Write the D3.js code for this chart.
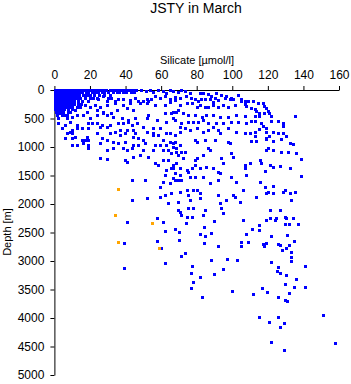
<!DOCTYPE html>
<html><head><meta charset="utf-8">
<script src="https://cdn.jsdelivr.net/npm/d3@7"></script>
<style>
body{margin:0;background:#fff;}
text{font-family:"Liberation Sans",Arial,sans-serif;fill:#000;}
</style></head>
<body><svg id="c" width="351" height="384"></svg>
<script>
const title = "JSTY in March";
const xLabel = "Silicate [\u00b5mol/l]";
const yLabel = "Depth [m]";
const xTicks = [0,20,40,60,80,100,120,140,160];
const yTicks = [0,500,1000,1500,2000,2500,3000,3500,4000,4500,5000];

// dense near-surface rows: [depth, silicate values...]
const denseRows = [
 [0, 0.5,2,3.5,5,6.5,8,9.5,11,12.5,14,15.5,17,18.5,20,21.5,23,24.5,26,27.5,29,31,32.5,34,36,37.5,39,41,42.5,44,46,48.5],
 [40, 0.5,2,3.5,5,6.5,8,9.5,11,12.5,14,15.5,17.5,19,21,23,24.5,26.5,28,30,33,35,36.5,38.5,40,43,45],
 [90, 0.5,2,3.5,5,6.5,8,9.5,11,12.5,14,16,18,19.5,22,25,28,31.5],
 [140, 0.5,2,3.5,5,6.5,8,9.5,11,12.5,14.5,17,20,24,30],
 [190, 0.5,2,3.5,5,6.5,8,9.5,11,13,15.5,19],
 [240, 0.5,2,3.5,5,6.5,8,9.5,11,13,15],
 [290, 0.5,2,3.5,5,6.5,8,10,12.5],
 [340, 0.5,2,3.5,5.5,7.5,10],
 [390, 1,3,5,7.5],
 [440, 1.5,4,6]
];

// scattered blue samples [silicate, depth]
const bluePoints = [
 [17.2,105],[20,94],[21.8,135],[24.6,164],[27.5,105],[29.3,193],[32.1,135],[34,193],[35.9,164],[38.7,164],[42.4,176],[45.2,135],[47.1,193],[49.9,193],[51.8,164],
 [2.2,380],[3.2,410],[5,380],[6.9,439],[8.8,380],[11.6,351],[14.4,293],[17.2,263],[20,293],[22.8,263],[25.6,293],[29.3,263],[34,234],[38.7,263],[42.4,234],[48,234],[51.8,234],[56.4,263],[62.1,263],[64.9,205],[67.7,176],
 [12.5,439],[18.1,380],[23.7,351],[27.5,380],[35,351],[40.6,322],[44.3,351],[52.7,439],[57.4,527],[62.1,410],[66.7,380],
 [2.2,497],[6.9,497],[9.7,468],[16.3,439],[20,497],[23.7,439],[27.5,410],[29.3,439],[32.1,410],[33.1,468],[37.8,497],[41.5,527],[46.2,585],[45.2,497],[51.8,497],[63,556],[66.7,497],
 [2.2,585],[6,614],[8.8,556],[12.5,614],[19.1,585],[20.9,585],[23.7,585],[26.5,614],[31.2,614],[35.9,585],[38.7,585],[41.5,556],[43.4,614],[49.9,644],[55.5,673],[59.3,673],
 [4.1,673],[8.8,731],[9.7,702],[12.5,673],[15.3,673],[19.1,673],[25.6,644],[29.3,644],[34,731],[36.8,702],[40.6,702],[44.3,702],[45.2,761],[51.8,731],[55.5,761],[63,761],[67.7,790],[70.5,731],
 [6.9,761],[9.7,761],[11.6,819],[9.7,848],[6,848],[15.3,878],[18.1,819],[23.7,761],[26.5,848],[31.2,761],[36.8,790],[39.6,761],[44.3,819],[47.1,848],[49.9,878],[55.5,790],[58.3,790],[61.1,878],[64.9,907],
 [17.2,878],[19.1,878],[16.3,936],[19.1,965],[25.6,936],[29.3,878],[33.1,907],[35.9,936],[39.6,907],[44.3,965],[47.1,965],[50.8,936],[56.4,965],[59.3,965],[63,965],[66.7,936],
 [9.7,965],[12.5,965],[19.1,1024],[29.3,1053],[33.1,1024],[38.7,1024],[40.6,1053],[43.4,1024],[49.9,1053],[55.5,1053],[61.1,1053],[63.9,1053],[68.6,1082],
 [25.6,1199],[29.3,1211],[40.6,1258],[39.6,1229],[44.3,1170],[48,1141],[52.7,1170],[56.4,1287],[61.1,1229],[63.9,1229],[66.7,1316],[66.7,1375],[67.7,1463],[63,1404],[62.1,1492],[58.3,1316],
 [43.4,1580],[50.8,1580],[61.1,1609],[59.3,1697],[67.7,1580],[66.7,1550],[62.1,1843],[59.3,1872],[65.8,1814],[63.9,1989],[43.4,1931],[51.8,1902],[40.6,2311],[57.4,2252],[61.1,2311],
 [39,2690],[61.9,2467],[57.8,2643],[60.2,2777],[61.9,3040],[39,3116],
 [64.9,205],[70.5,263],[74.3,234],[77.1,234],[79.9,293],[81.7,263],[84.5,293],[86.4,293],[89.2,263],[92,293],[94.8,263],[97.6,293],[101.4,263],
 [69.6,351],[65.8,410],[68.6,380],[72.4,410],[75.2,439],[78.9,439],[82.7,468],[85.5,439],[89.2,439],[93,468],[97.6,468],[102.3,439],
 [67.7,527],[71.4,585],[75.2,556],[78,556],[80.8,556],[83.6,527],[86.4,585],[91.1,585],[94.8,585],[99.5,556],[103.2,556],
 [73.3,673],[76.1,702],[79.9,673],[83.6,731],[86.4,702],[92,702],[93,761],[97.6,673],[102.3,731],[64.9,761],[70.5,644],[89.2,644],
 [78.9,878],[79.9,907],[84.5,878],[90.1,878],[97.6,907],[98.6,936],[67.7,907],[70.5,965],[68.6,1024],[66.8,995],
 [65.8,1112],[69.6,1141],[71.4,1082],[73.3,1082],[72.4,1199],[78.9,1229],[79.9,1199],[83.6,1141],[86.4,1024],[87.3,1053],[93.9,1199],[94.8,1287],[99.5,1112],[100.4,1170],
 [107,1316],[107,1375],[109.8,1287],[115.4,1229],[119.1,1053],[120.1,1024],[122.9,1053],[127.5,1082],[131.3,1082],[136,1100],[138.8,1217],[78.9,1316],[68.6,1287],
 [65.8,1375],[70.5,1375],[74.3,1404],[77.1,1375],[81.7,1375],[85.5,1345],[89.2,1375],[92,1433],[93,1463],[99.5,1521],[107.9,1492],[116.3,1287],[118.2,1416],[121,1316],[122.9,1345],[126.6,1328],[132.2,1375],[138.8,1510],
 [70.5,1492],[75.2,1433],[69.6,1580],[71.4,1580],[76.1,1521],[78.9,1521],[83.6,1521],[87.3,1638],[92,1580],[102.3,1609],[115.4,1621],[118.2,1708],[122.9,1679],[64.9,1638],
 [74.3,1755],[78,1755],[79.9,1755],[81.7,1814],[75.2,1843],[70.5,1785],[92,1843],[100.4,1843],[101.4,1872],[106,1755],[113.5,1872],[119.1,1814],[120.1,1785],[122.9,1814],[129.4,1755],[128.5,1785],[132.2,1814],[135,1785],[133.2,1931],
 [76.1,1931],[81.7,1902],[69.6,1960],[93,1989],[96.7,1931],[104.2,1960],
 [69.6,2106],[70.5,2135],[75.2,2077],[78,2077],[84.5,2106],[83.6,2194],[93.9,2077],[94.8,2165],[74.3,2223],[77.1,2223],[71.4,2194],
 [121,2106],[126.6,2106],[121,2252],[124.7,2252],[129.4,2223],[130.4,2252],[134.1,2252],
 [51.7,18],[53.6,0],[55.5,35],[58.3,0],[61.1,18],[63,47],[64.8,0],[66.7,18],[69.5,35],[71.4,0],[73.2,18],[76,47],[81.7,47],[83.5,59],[86.3,76],[88.2,105],[91,59],[93.8,94],[96.6,105],[99.4,135],[103.2,94],
 [52.7,193],[54.5,164],[56.4,105],[59.2,135],[62,105],[64.8,164],[67.6,117],[70.4,135],[74.2,105],[77,135],[78.9,152],[80.7,193],[82.6,164],[84.5,152],[87.3,164],[89.1,211],[90.1,135],[92,176],[95.7,135],[98.5,164],[100.4,152],[105,193],
 [105,164],[106.9,193],[108.8,193],[106.9,252],[107.8,281],[111.6,193],[114.4,222],[117.2,222],[118.1,281],[119,310],[110.6,310],[112.5,339],[113.5,369],[115.3,398],[118.1,398],[120,369],[120.9,398],[121.9,456],[115.3,456],[112.5,456],[106.9,456],[135,456],
 [110.6,544],[112.5,544],[107.8,574],[116.3,574],[121.9,544],[125.6,544],[128.4,574],[128.4,632],[117.2,632],[119,661],[115.3,678],
 [106.9,749],[109.7,749],[112.5,737],[119,737],[122.8,737],[125.6,749],[128.4,749],[130.3,808],[112.5,808],[119,837],[120.9,808],[110.6,895],[113.5,895],[119,866],[122.8,895],[127.5,866],[132.2,924],[134,954],
 [67.7,2444],[70.1,2485],[73.9,2339],[84.2,2397],[89.8,2292],[82.1,2532],[84.9,2561],[87.9,2514],[70.1,2631],[84,2690],[92,2736],[104.7,2660],[104.7,2736],[108.8,2660],[107.5,2526],[111.3,2444],[115,2368],[115,2456],[106,2280],[119,2280],[123.8,2280],[129.4,2350],[131.9,2350],[136.9,2350],
 [121.9,2555],[130.7,2537],[117.3,2701],[118.8,2690],[117.8,2736],[125.7,2701],[126.6,2719],[130,2777],[131.9,2719],[134.5,2643],[127.9,2806],[133.2,2836],[133.2,2924],[133.2,2994],
 [70.9,2912],[73.3,2865],[77.1,3087],[76.9,3216],[78,3362],[77,3480],[83,3637],[88.3,2982],[97.1,2970],[102.9,2982],[94.8,3140],[89.8,3234],[81.9,3274],[99.9,3532],[111.6,3573],[116.9,3480],[119.7,3550],
 [121.7,3023],[125.7,3099],[125.1,3169],[126.8,3216],[130,3251],[129.8,3409],[131.9,3567],[125.7,3637],[129.4,3684],[130.7,3696],[135.8,3321],[134.6,3450],[140.8,3081],[140.8,3450],
 [115,3977],[120.6,4064],[125.7,3988],[126.8,4152],[128.9,4094],[150.9,3953],[157.6,4445],[121.7,4427],[128.9,4562]
];

const orangePoints = [[35.7,1743],[34.2,2188],[55,2340],[35.9,2672],[58.9,2777]];

const svg = d3.select("#c");
const L = 54.4, T = 90, R = 339, B = 375;
const x = d3.scaleLinear().domain([0,160]).range([L,R]);
const y = d3.scaleLinear().domain([0,5000]).range([T,B]);

const allBlue = bluePoints.slice();
denseRows.forEach(r => { const d = r[0]; r.slice(1).forEach(s => allBlue.push([s,d])); });

svg.append("text").attr("x",196).attr("y",13).attr("text-anchor","middle").style("font-size","14px").text(title);
svg.append("text").attr("x",197).attr("y",64).attr("text-anchor","middle").style("font-size","11px").text(xLabel);
svg.append("text").attr("transform","translate(11,232) rotate(-90)").attr("text-anchor","middle").style("font-size","11px").text(yLabel);

const xa = svg.append("g").attr("transform",`translate(0,${T})`)
  .call(d3.axisTop(x).tickValues(xTicks).tickFormat(d3.format("d")).tickSize(4).tickPadding(7).tickSizeOuter(0));
const ya = svg.append("g").attr("transform",`translate(${L},0)`)
  .call(d3.axisLeft(y).tickValues(yTicks).tickFormat(d3.format("d")).tickSize(4).tickPadding(6).tickSizeOuter(0));
[xa,ya].forEach(g=>{ g.select(".domain").attr("stroke","#000"); g.selectAll(".tick line").attr("stroke","#000");
  g.selectAll("text").style("font-size","12px").style("font-family","'Liberation Sans',Arial,sans-serif").attr("fill","#000"); });

const pts = svg.append("g");
pts.selectAll("rect.b").data(allBlue).join("rect").attr("class","b")
  .attr("x",d=>Math.round(x(d[0]))-1).attr("y",d=>Math.round(y(d[1]))-1)
  .attr("width",3).attr("height",3).attr("fill","#0000ff").attr("shape-rendering","crispEdges");
pts.selectAll("rect.o").data(orangePoints).join("rect").attr("class","o")
  .attr("x",d=>Math.round(x(d[0]))-1).attr("y",d=>Math.round(y(d[1]))-1)
  .attr("width",3).attr("height",3).attr("fill","#ffa500").attr("shape-rendering","crispEdges");
</script></body></html>
